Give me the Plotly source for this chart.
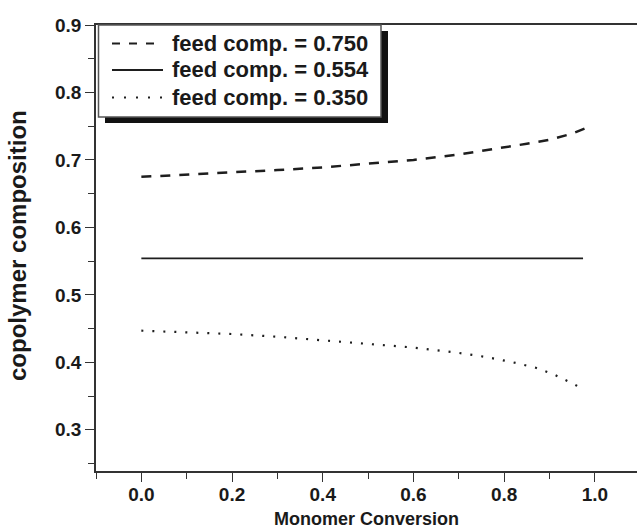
import plotly.graph_objects as go

# ---- data ----
dash_x = [0.0, 0.1, 0.2, 0.3, 0.4, 0.5, 0.6, 0.7, 0.8, 0.85, 0.9, 0.95, 0.983]
dash_y = [0.675, 0.678, 0.681, 0.685, 0.689, 0.694, 0.700, 0.708, 0.718, 0.724, 0.730, 0.739, 0.748]

solid_x = [0.0, 0.974]
solid_y = [0.554, 0.554]

dot_x = [0.0, 0.1, 0.2, 0.3, 0.4, 0.5, 0.6, 0.7, 0.76, 0.82, 0.87, 0.91, 0.93, 0.95, 0.97]
dot_y = [0.447, 0.445, 0.442, 0.438, 0.433, 0.428, 0.422, 0.414, 0.408, 0.400, 0.392, 0.382, 0.376, 0.369, 0.362]

legend_labels = ["feed comp. = 0.750", "feed comp. = 0.554", "feed comp. = 0.350"]
x_title = "Monomer Conversion"
y_title = "copolymer composition"

x_range = [-0.1, 1.093]
y_range = [0.239, 0.9]

W, H = 637, 529
ML, MR, MT, MB = 96, 0, 25, 58
PW, PH = W - ML - MR, H - MT - MB

def px(xp):
    return (xp - ML) / PW

def py(yp):
    return 1 - (yp - MT) / PH

LINE = "#1e1e1e"
TXT = "#1a1a1a"
FONT = "Liberation Sans, Arial, sans-serif"

fig = go.Figure()
fig.add_trace(go.Scatter(x=dash_x, y=dash_y, mode="lines", showlegend=False,
                         line=dict(color=LINE, width=2.5, dash="10px,9px")))
fig.add_trace(go.Scatter(x=solid_x, y=solid_y, mode="lines", showlegend=False,
                         line=dict(color=LINE, width=1.8)))
fig.add_trace(go.Scatter(x=dot_x, y=dot_y, mode="lines", showlegend=False,
                         line=dict(color=LINE, width=2.2, dash="2px,9px")))

shapes = []
# legend shadow
shapes.append(dict(type="rect", xref="paper", yref="paper",
                   x0=px(105), x1=px(388), y0=py(123), y1=py(31),
                   fillcolor="#111111", line=dict(width=0), layer="above"))
# legend box
shapes.append(dict(type="rect", xref="paper", yref="paper",
                   x0=px(98.5), x1=px(381), y0=py(117), y1=py(25),
                   fillcolor="white", line=dict(color="#555555", width=1.5), layer="above"))
row_y = [43.5, 70, 97.5]
dashes = ["8px,9px", "solid", "2px,10px"]
widths = [2.2, 1.8, 2.0]
for ry, d, w in zip(row_y, dashes, widths):
    shapes.append(dict(type="line", xref="paper", yref="paper",
                       x0=px(112), x1=px(163), y0=py(ry), y1=py(ry),
                       line=dict(color=LINE, width=w, dash=d), layer="above"))

annotations = []
for ry, lab in zip(row_y, legend_labels):
    annotations.append(dict(text=lab, xref="paper", yref="paper", x=px(170), y=py(ry),
                            xanchor="left", yanchor="middle", showarrow=False,
                            font=dict(family=FONT, size=22, color=TXT, weight="bold")))
# axis titles
annotations.append(dict(text=x_title, xref="paper", yref="paper", x=px(366), y=py(519),
                        xanchor="center", yanchor="middle", showarrow=False,
                        font=dict(family=FONT, size=18, color=TXT, weight="bold")))
annotations.append(dict(text=y_title, xref="paper", yref="paper", x=px(17), y=py(246),
                        xanchor="center", yanchor="middle", showarrow=False, textangle=-90,
                        font=dict(family=FONT, size=24, color=TXT, weight="bold")))

fig.update_layout(
    width=W, height=H,
    margin=dict(l=ML, r=MR, t=MT, b=MB, pad=0),
    plot_bgcolor="white", paper_bgcolor="white",
    shapes=shapes, annotations=annotations,
    font=dict(family=FONT, color=TXT),
    xaxis=dict(range=x_range, tick0=0, dtick=0.2, tickformat=".1f",
               showgrid=False, zeroline=False,
               showline=True, linecolor="#333333", linewidth=1.5, mirror=True,
               ticks="outside", ticklen=9, tickwidth=1.3, tickcolor="#333333",
               minor=dict(dtick=0.1, ticks="outside", ticklen=6, tickwidth=1.3, tickcolor="#333333"),
               ticklabelstandoff=-4,
               tickfont=dict(family=FONT, size=19, weight="bold", color=TXT)),
    xaxis2=dict(range=x_range, overlaying="x", side="top", anchor="y",
                tick0=0, dtick=0.1, ticks="inside", ticklen=3, tickwidth=1.2, tickcolor="#555555",
                showticklabels=False, showgrid=False, zeroline=False, showline=False),
    yaxis=dict(range=y_range, tick0=0.3, dtick=0.1, tickformat=".1f",
               showgrid=False, zeroline=False,
               showline=True, linecolor="#333333", linewidth=1.5,
               ticks="outside", ticklen=9, tickwidth=1.3, tickcolor="#333333",
               minor=dict(dtick=0.05, ticks="outside", ticklen=6, tickwidth=1.3, tickcolor="#333333"),
               tickfont=dict(family=FONT, size=19, weight="bold", color=TXT)),
)

fig.write_html("out.html")
